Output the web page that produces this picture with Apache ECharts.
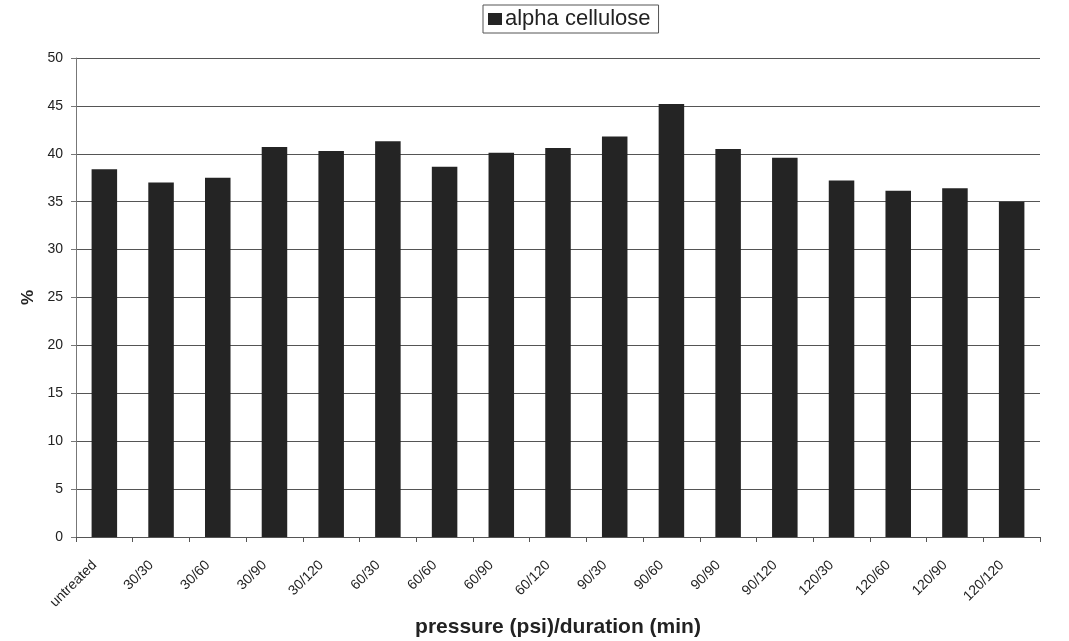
<!DOCTYPE html>
<html><head><meta charset="utf-8">
<script src="https://cdn.jsdelivr.net/npm/echarts@6/dist/echarts.min.js"></script>
<style>html,body{margin:0;padding:0;background:#fff}#c{width:1069px;height:641px}</style>
</head><body><div id="c"></div>
<script>
const categories = ["untreated","30/30","30/60","30/90","30/120","60/30","60/60","60/90","60/120","90/30","90/60","90/90","90/120","120/30","120/60","120/90","120/120"];
const alphaCellulose = [38.4,37.0,37.5,40.7,40.3,41.3,38.65,40.1,40.6,41.8,45.2,40.5,39.6,37.2,36.15,36.4,35.0];
const seriesName = "alpha cellulose";
const xTitle = "pressure (psi)/duration (min)";
const yTitle = "%";
const F = "'Liberation Sans', Arial, sans-serif";
const chart = echarts.init(document.getElementById('c'));
chart.setOption({
  animation:false,
  backgroundColor:'#fff',
  legend:{
    top:5, left:483,
    data:[{name:seriesName,icon:'rect'}],
    itemWidth:14, itemHeight:12, itemGap:4,
    textStyle:{fontFamily:F,fontSize:22,color:'#222',padding:[0,0,0,-2]},
    borderColor:'#555', borderWidth:1, padding:[3,8,3,5]
  },
  grid:{left:76,right:29,top:58,bottom:104,outerBoundsMode:'none',containLabel:false},
  xAxis:{
    type:'category', data:categories,
    name:xTitle, nameLocation:'middle', nameGap:80,
    nameTextStyle:{fontFamily:F,fontSize:21,fontWeight:'bold',color:'#222'},
    axisLine:{lineStyle:{color:'#555'}},
    axisTick:{show:true,length:5,lineStyle:{color:'#555'}},
    axisLabel:{rotate:45,fontFamily:F,fontSize:14,color:'#222',margin:16,interval:0,padding:[0,14,0,0]}
  },
  yAxis:{
    type:'value', min:0, max:50, interval:5,
    name:yTitle, nameLocation:'middle', nameGap:32, nameRotate:90,
    nameTextStyle:{fontFamily:F,fontSize:17,fontWeight:'bold',color:'#222'},
    axisLine:{show:true,lineStyle:{color:'#777'}},
    axisTick:{show:true,length:5,lineStyle:{color:'#777'}},
    axisLabel:{fontFamily:F,fontSize:14,color:'#222',margin:13},
    splitLine:{lineStyle:{color:'#555',width:1}}
  },
  series:[{
    name:seriesName, type:'bar', data:alphaCellulose,
    barWidth:'45%',
    itemStyle:{color:'#242424'}
  }]
});
</script></body></html>
